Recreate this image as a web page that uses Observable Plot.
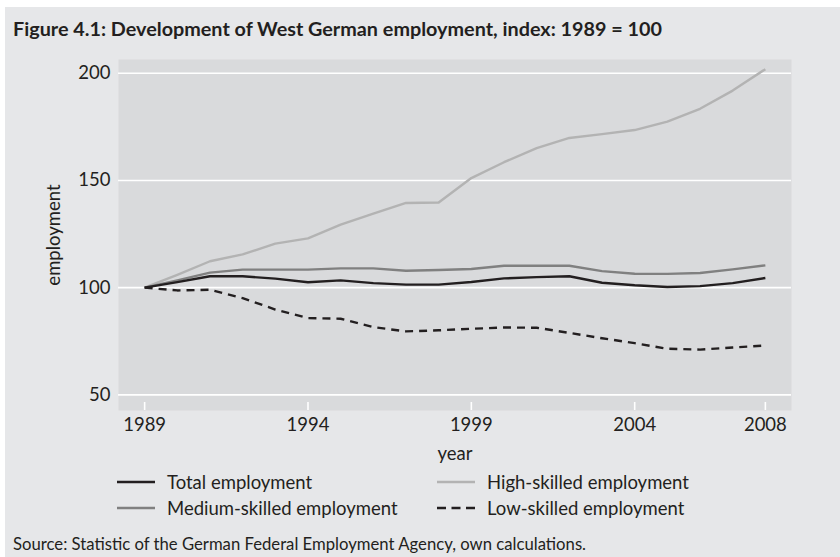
<!DOCTYPE html>
<html>
<head>
<meta charset="utf-8">
<script src="https://cdn.jsdelivr.net/npm/d3@7"></script>
<script src="https://cdn.jsdelivr.net/npm/@observablehq/plot@0.6"></script>
<style>
  body { margin: 0; background: #ffffff; font-family: Lato, "Noto Sans", sans-serif; color: #231f20; }
  #frame { position: absolute; left: 5px; top: 7px; width: 835px; height: 550px; background: #e6e7e9; }
  .txt { position: absolute; white-space: nowrap; line-height: 1.2; }
  #title { left: 13px; top: 17px; font-size: 19.8px; font-weight: 700; }
  #chart { position: absolute; left: 0; top: 40px; }
  .leg { position: absolute; height: 22px; display: flex; align-items: center; font-size: 18.5px; white-space: nowrap; }
  .leg svg { margin-right: 12px; }
  #source { left: 13px; top: 534px; font-size: 16.7px; }
</style>
</head>
<body>
<div id="frame"></div>
<div id="title" class="txt">Figure 4.1: Development of West German employment, index: 1989 = 100</div>
<div id="chart"></div>
<div id="legend"></div>
<div id="source" class="txt">Source: Statistic of the German Federal Employment Agency, own calculations.</div>
<script>
const years  = [1989, 1990, 1991, 1992, 1993, 1994, 1995, 1996, 1997, 1998, 1999, 2000, 2001, 2002, 2003, 2004, 2005, 2006, 2007, 2008];
const total  = [100, 102.6, 105.3, 105.3, 104.2, 102.5, 103.4, 102.1, 101.4, 101.4, 102.6, 104.3, 104.9, 105.3, 102.3, 101.1, 100.3, 100.7, 102.1, 104.5];
const medium = [100, 103.4, 107.0, 108.4, 108.4, 108.4, 109.0, 109.0, 107.9, 108.2, 108.7, 110.2, 110.2, 110.2, 107.7, 106.5, 106.4, 106.8, 108.5, 110.4];
const high   = [100, 106.0, 112.3, 115.5, 120.5, 123.0, 129.4, 134.5, 139.5, 139.7, 151.1, 158.5, 165.1, 169.8, 171.6, 173.5, 177.4, 183.4, 191.9, 201.9];
const low    = [100, 98.7, 99.0, 95.1, 89.8, 85.8, 85.5, 81.6, 79.6, 80.1, 80.8, 81.4, 81.3, 78.9, 76.4, 74.1, 71.5, 71.1, 72.1, 73.0];

const seriesNames = ["Total employment", "Medium-skilled employment", "High-skilled employment", "Low-skilled employment"];
const xTicks = [1989, 1994, 1999, 2004, 2008];
const yTicks = [50, 100, 150, 200];
const xTitle = "year";
const yTitle = "employment";

const styles = {
  "Total employment":          {stroke: "#231f20", dash: null},
  "Medium-skilled employment": {stroke: "#808080", dash: null},
  "High-skilled employment":   {stroke: "#b3b3b3", dash: null},
  "Low-skilled employment":    {stroke: "#231f20", dash: "8,6"}
};
const valuesBySeries = {
  "Total employment": total,
  "Medium-skilled employment": medium,
  "High-skilled employment": high,
  "Low-skilled employment": low
};
const drawOrder = ["High-skilled employment", "Medium-skilled employment", "Low-skilled employment", "Total employment"];

const FS = 18.5;
const lineMarks = drawOrder.map(name => Plot.lineY(
  years.map((yr, i) => ({year: yr, value: valuesBySeries[name][i]})),
  {x: "year", y: "value", stroke: styles[name].stroke, strokeWidth: 2.4,
   strokeDasharray: styles[name].dash, strokeLinejoin: "round", strokeLinecap: "butt"}
));

const chart = Plot.plot({
  width: 840,
  height: 420,
  marginTop: 19,
  marginBottom: 50,
  marginLeft: 118,
  marginRight: 49,
  style: {background: "transparent", fontFamily: "Lato, 'Noto Sans', sans-serif", color: "#231f20", overflow: "visible"},
  x: {domain: [1988.2, 2008.8]},
  y: {domain: [42.7, 206.4]},
  marks: [
    Plot.frame({fill: "#d9dadc", stroke: null}),
    Plot.gridY(yTicks, {stroke: "#ffffff", strokeOpacity: 1, strokeWidth: 1.6}),
    Plot.ruleX(xTicks, {stroke: "#ffffff", strokeWidth: 1.6, insetTop: 343}),
    Plot.axisX(xTicks, {tickSize: 0, tickPadding: 7, tickFormat: d => String(d), fontSize: FS, label: null, fill: "#231f20"}),
    Plot.axisY(yTicks, {tickSize: 0, tickPadding: 8, tickFormat: d => String(d), fontSize: FS, label: null, fill: "#231f20"}),
    Plot.text([xTitle], {text: d => d, frameAnchor: "bottom", dy: 44, textAnchor: "middle", lineAnchor: "middle", fontSize: FS, fill: "#231f20"}),
    Plot.text([yTitle], {text: d => d, frameAnchor: "left", dx: -64, rotate: -90, textAnchor: "middle", lineAnchor: "middle", fontSize: FS, fill: "#231f20"}),
    ...lineMarks
  ]
});
document.getElementById("chart").appendChild(chart);

// legend (two columns, two rows)
const legendPos = [
  {name: "Total employment",          left: 117, top: 471},
  {name: "High-skilled employment",   left: 437, top: 471},
  {name: "Medium-skilled employment", left: 117, top: 497},
  {name: "Low-skilled employment",    left: 437, top: 497}
];
const legend = document.getElementById("legend");
for (const p of legendPos) {
  const s = styles[p.name];
  const div = document.createElement("div");
  div.className = "leg";
  div.style.left = p.left + "px";
  div.style.top = p.top + "px";
  div.innerHTML = `<svg width="38" height="10"><line x1="0" x2="38" y1="5" y2="5" stroke="${s.stroke}" stroke-width="2.6" ${s.dash ? `stroke-dasharray="9,5.5"` : ""}/></svg><span>${p.name}</span>`;
  legend.appendChild(div);
}
</script>
</body>
</html>
